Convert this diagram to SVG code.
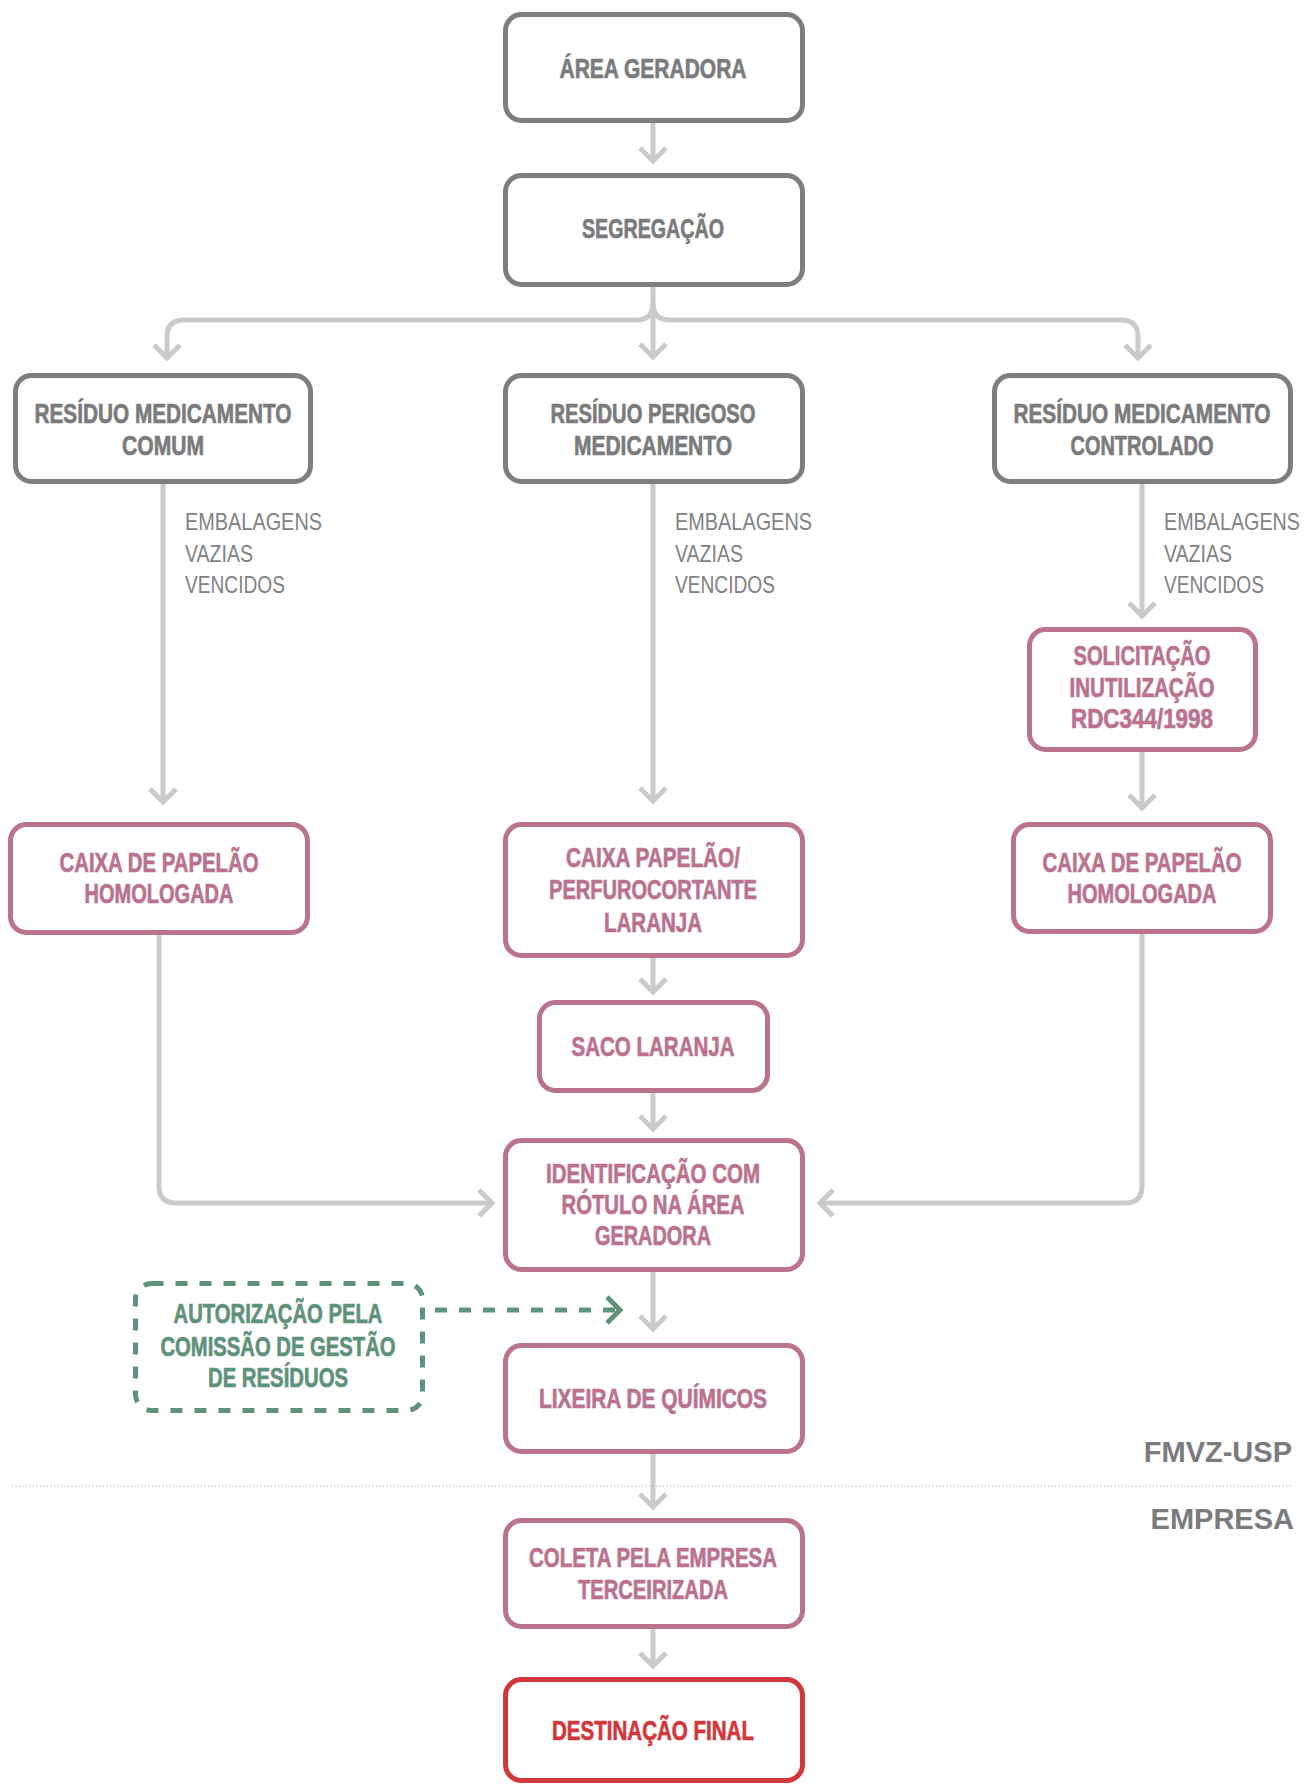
<svg xmlns="http://www.w3.org/2000/svg" width="1306" height="1785" viewBox="0 0 1306 1785">
<style>
.g{fill:#fff;stroke:#7e7e80;stroke-width:5}
.p{fill:#fff;stroke:#bb728f;stroke-width:5}
.r{fill:#fff;stroke:#d2373b;stroke-width:5}
.d{fill:#fff;stroke:#5f927a;stroke-width:5;stroke-dasharray:12 12}
.t{font-family:"Liberation Sans Narrow","Liberation Sans",Arial,sans-serif;font-stretch:condensed;font-weight:bold;font-size:27px;text-anchor:middle;stroke-width:0.7px;stroke-linejoin:round}
.tg{fill:#7b7b7d;stroke:#7b7b7d}.tp{fill:#bb728f;stroke:#bb728f}.tr{fill:#d2373b;stroke:#d2373b}.tn{fill:#5f927a;stroke:#5f927a}
.l{font-family:"Liberation Sans Narrow","Liberation Sans",Arial,sans-serif;font-stretch:condensed;font-size:24px;fill:#818184}
.z{font-family:"Liberation Sans",Arial,sans-serif;font-weight:bold;font-size:29px;fill:#7b7b7d;text-anchor:end}
.c{fill:none;stroke:#cacaca;stroke-width:5}
</style>
<defs>
<marker id="ah" markerUnits="userSpaceOnUse" markerWidth="40" markerHeight="40" viewBox="-20 -20 40 40" refX="0" refY="0" orient="auto">
<path d="M-14,-13 L-1,0 L-14,13" fill="none" stroke="#cacaca" stroke-width="5"/>
</marker>
<marker id="ahg" markerUnits="userSpaceOnUse" markerWidth="40" markerHeight="40" viewBox="-20 -20 40 40" refX="0" refY="0" orient="auto">
<path d="M-14,-13 L-1,0 L-14,13" fill="none" stroke="#5f927a" stroke-width="5"/>
</marker>
</defs>
<rect width="1306" height="1785" fill="#fff"/>
<g id="connectors">
<path class="c" marker-end="url(#ah)" d="M653,123 L653,162"/>
<path class="c" marker-end="url(#ah)" d="M653,287 L653,358"/>
<path class="c" marker-end="url(#ah)" d="M653,303 Q653,320 636,320 L184,320 Q167,320 167,337 L167,359"/>
<path class="c" marker-end="url(#ah)" d="M653,303 Q653,320 670,320 L1121,320 Q1138,320 1138,337 L1138,359"/>
<path class="c" marker-end="url(#ah)" d="M163,484 L163,803"/>
<path class="c" marker-end="url(#ah)" d="M653,484 L653,802"/>
<path class="c" marker-end="url(#ah)" d="M1142,484 L1142,617"/>
<path class="c" marker-end="url(#ah)" d="M1142,752 L1142,809"/>
<path class="c" marker-end="url(#ah)" d="M653,958 L653,993"/>
<path class="c" marker-end="url(#ah)" d="M653,1093 L653,1130"/>
<path class="c" marker-end="url(#ah)" d="M159,935 L159,1186 Q159,1203 176,1203 L493,1203"/>
<path class="c" marker-end="url(#ah)" d="M1142,934 L1142,1186 Q1142,1203 1125,1203 L819,1203"/>
<path class="c" marker-end="url(#ah)" d="M653,1272 L653,1330"/>
<path class="c" marker-end="url(#ah)" d="M653,1454 L653,1508"/>
<path class="c" marker-end="url(#ah)" d="M653,1629 L653,1667"/>
<path fill="none" stroke="#5f927a" stroke-width="5" stroke-dasharray="12 12" marker-end="url(#ahg)" d="M435,1310 L621,1310"/>
<path fill="none" stroke="#9a9a9a" stroke-width="1" stroke-dasharray="1 2.5" d="M12,1486 L1292,1486"/>
</g>
<g id="area-geradora">
<rect class="g" x="505.5" y="14.5" width="297" height="106" rx="16"/>
<text class="t tg" x="653" y="78" textLength="187" lengthAdjust="spacingAndGlyphs">ÁREA GERADORA</text>
</g>
<g id="segregacao">
<rect class="g" x="505.5" y="175.5" width="297" height="109" rx="16"/>
<text class="t tg" x="653" y="238" textLength="142" lengthAdjust="spacingAndGlyphs">SEGREGAÇÃO</text>
</g>
<g id="residuo-comum">
<rect class="g" x="15.5" y="375.5" width="295" height="106" rx="16"/>
<text class="t tg" x="163" y="423" textLength="257" lengthAdjust="spacingAndGlyphs">RESÍDUO MEDICAMENTO</text>
<text class="t tg" x="163" y="455" textLength="82" lengthAdjust="spacingAndGlyphs">COMUM</text>
</g>
<g id="residuo-perigoso">
<rect class="g" x="505.5" y="375.5" width="297" height="106" rx="16"/>
<text class="t tg" x="653" y="423" textLength="205" lengthAdjust="spacingAndGlyphs">RESÍDUO PERIGOSO</text>
<text class="t tg" x="653" y="455" textLength="158" lengthAdjust="spacingAndGlyphs">MEDICAMENTO</text>
</g>
<g id="residuo-controlado">
<rect class="g" x="994.5" y="375.5" width="296" height="106" rx="16"/>
<text class="t tg" x="1142" y="423" textLength="257" lengthAdjust="spacingAndGlyphs">RESÍDUO MEDICAMENTO</text>
<text class="t tg" x="1142" y="455" textLength="143" lengthAdjust="spacingAndGlyphs">CONTROLADO</text>
</g>
<g id="labels">
<text class="l" x="185" y="530" textLength="137" lengthAdjust="spacingAndGlyphs">EMBALAGENS</text>
<text class="l" x="185" y="562" textLength="68" lengthAdjust="spacingAndGlyphs">VAZIAS</text>
<text class="l" x="185" y="593" textLength="100" lengthAdjust="spacingAndGlyphs">VENCIDOS</text>
<text class="l" x="675" y="530" textLength="137" lengthAdjust="spacingAndGlyphs">EMBALAGENS</text>
<text class="l" x="675" y="562" textLength="68" lengthAdjust="spacingAndGlyphs">VAZIAS</text>
<text class="l" x="675" y="593" textLength="100" lengthAdjust="spacingAndGlyphs">VENCIDOS</text>
<text class="l" x="1164" y="530" textLength="136" lengthAdjust="spacingAndGlyphs">EMBALAGENS</text>
<text class="l" x="1164" y="562" textLength="68" lengthAdjust="spacingAndGlyphs">VAZIAS</text>
<text class="l" x="1164" y="593" textLength="100" lengthAdjust="spacingAndGlyphs">VENCIDOS</text>
</g>
<g id="solicitacao">
<rect class="p" x="1029.5" y="629.5" width="226" height="120" rx="16"/>
<text class="t tp" x="1142" y="665" textLength="137" lengthAdjust="spacingAndGlyphs">SOLICITAÇÃO</text>
<text class="t tp" x="1142" y="697" textLength="145" lengthAdjust="spacingAndGlyphs">INUTILIZAÇÃO</text>
<text class="t tp" x="1142" y="728" textLength="142" lengthAdjust="spacingAndGlyphs">RDC344/1998</text>
</g>
<g id="caixa-comum">
<rect class="p" x="10.5" y="824.5" width="297" height="108" rx="16"/>
<text class="t tp" x="159" y="872" textLength="199" lengthAdjust="spacingAndGlyphs">CAIXA DE PAPELÃO</text>
<text class="t tp" x="159" y="903" textLength="149" lengthAdjust="spacingAndGlyphs">HOMOLOGADA</text>
</g>
<g id="caixa-perigoso">
<rect class="p" x="505.5" y="824.5" width="297" height="131" rx="16"/>
<text class="t tp" x="653" y="867" textLength="174" lengthAdjust="spacingAndGlyphs">CAIXA PAPELÃO/</text>
<text class="t tp" x="653" y="899" textLength="208" lengthAdjust="spacingAndGlyphs">PERFUROCORTANTE</text>
<text class="t tp" x="653" y="932" textLength="98" lengthAdjust="spacingAndGlyphs">LARANJA</text>
</g>
<g id="caixa-controlado">
<rect class="p" x="1013.5" y="824.5" width="257" height="107" rx="16"/>
<text class="t tp" x="1142" y="872" textLength="199" lengthAdjust="spacingAndGlyphs">CAIXA DE PAPELÃO</text>
<text class="t tp" x="1142" y="903" textLength="149" lengthAdjust="spacingAndGlyphs">HOMOLOGADA</text>
</g>
<g id="saco-laranja">
<rect class="p" x="539.5" y="1002.5" width="228" height="88" rx="16"/>
<text class="t tp" x="653" y="1056" textLength="163" lengthAdjust="spacingAndGlyphs">SACO LARANJA</text>
</g>
<g id="identificacao">
<rect class="p" x="505.5" y="1140.5" width="297" height="129" rx="16"/>
<text class="t tp" x="653" y="1183" textLength="214" lengthAdjust="spacingAndGlyphs">IDENTIFICAÇÃO COM</text>
<text class="t tp" x="653" y="1214" textLength="183" lengthAdjust="spacingAndGlyphs">RÓTULO NA ÁREA</text>
<text class="t tp" x="653" y="1245" textLength="116" lengthAdjust="spacingAndGlyphs">GERADORA</text>
</g>
<g id="autorizacao">
<rect class="d" x="135.5" y="1283.5" width="287" height="127" rx="16"/>
<text class="t tn" x="278" y="1323" textLength="209" lengthAdjust="spacingAndGlyphs">AUTORIZAÇÃO PELA</text>
<text class="t tn" x="278" y="1356" textLength="235" lengthAdjust="spacingAndGlyphs">COMISSÃO DE GESTÃO</text>
<text class="t tn" x="278" y="1387" textLength="140" lengthAdjust="spacingAndGlyphs">DE RESÍDUOS</text>
</g>
<g id="lixeira">
<rect class="p" x="505.5" y="1345.5" width="297" height="106" rx="16"/>
<text class="t tp" x="653" y="1408" textLength="228" lengthAdjust="spacingAndGlyphs">LIXEIRA DE QUÍMICOS</text>
</g>
<g id="coleta">
<rect class="p" x="505.5" y="1520.5" width="297" height="106" rx="16"/>
<text class="t tp" x="653" y="1567" textLength="248" lengthAdjust="spacingAndGlyphs">COLETA PELA EMPRESA</text>
<text class="t tp" x="653" y="1599" textLength="150" lengthAdjust="spacingAndGlyphs">TERCEIRIZADA</text>
</g>
<g id="destinacao">
<rect class="r" x="505.5" y="1679.5" width="297" height="101" rx="16"/>
<text class="t tr" x="653" y="1740" textLength="202" lengthAdjust="spacingAndGlyphs">DESTINAÇÃO FINAL</text>
</g>
<g id="zones">
<text class="z" x="1292" y="1462">FMVZ-USP</text>
<text class="z" x="1294" y="1529">EMPRESA</text>
</g>
</svg>
